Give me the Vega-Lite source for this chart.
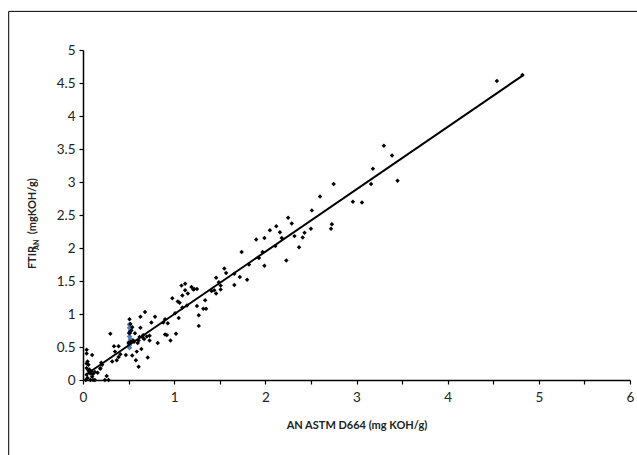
{
  "$schema": "https://vega.github.io/schema/vega-lite/v6.json",
  "autosize": {"type": "none"},
  "width": 547,
  "height": 330,
  "padding": {"left": 83, "top": 50, "right": 7, "bottom": 75},
  "background": "white",
  "config": {
    "view": {"stroke": null},
    "font": "Lato",
    "axis": {"grid": false, "domainColor": "#000000", "domainWidth": 1.5, "tickColor": "#000000", "tickWidth": 1.2, "tickSize": 4,
      "labelFont": "Lato", "labelFontSize": 13.5, "labelColor": "#222222", "labelOverlap": false, "labelFlush": false, "labelBound": false,
      "titleFont": "Lato", "titleFontSize": 11, "titleFontWeight": "bold", "titleColor": "#222222"}
  },
  "datasets": {
    "pts": [
      {"x":4.54,"y":4.53},{"x":4.82,"y":4.62},{"x":3.30,"y":3.55},{"x":3.39,"y":3.40},{"x":3.45,"y":3.02},{"x":3.18,"y":3.20},{"x":3.16,"y":2.97},{"x":2.96,"y":2.70},{"x":3.06,"y":2.69},{"x":2.75,"y":2.97},
      {"x":2.60,"y":2.78},{"x":2.51,"y":2.57},{"x":2.50,"y":2.29},{"x":2.73,"y":2.36},{"x":2.72,"y":2.29},{"x":2.43,"y":2.23},{"x":2.41,"y":2.16},{"x":2.37,"y":2.01},{"x":2.32,"y":2.18},{"x":2.29,"y":2.37},
      {"x":2.25,"y":2.46},{"x":2.23,"y":1.81},{"x":2.16,"y":2.24},{"x":2.18,"y":2.15},{"x":2.12,"y":2.33},{"x":2.05,"y":2.27},{"x":2.11,"y":2.03},{"x":1.99,"y":2.15},{"x":1.90,"y":2.13},{"x":1.97,"y":1.94},
      {"x":1.93,"y":1.85},{"x":1.99,"y":1.73},{"x":1.74,"y":1.94},{"x":1.82,"y":1.75},{"x":1.80,"y":1.52},{"x":1.72,"y":1.56},{"x":1.66,"y":1.61},{"x":1.66,"y":1.44},{"x":1.55,"y":1.69},{"x":1.57,"y":1.62},
      {"x":1.51,"y":1.43},{"x":1.49,"y":1.48},{"x":1.51,"y":1.37},{"x":1.46,"y":1.55},{"x":1.44,"y":1.36},{"x":1.46,"y":1.31},{"x":1.41,"y":1.35},{"x":1.25,"y":1.38},{"x":1.22,"y":1.38},{"x":1.19,"y":1.41},
      {"x":1.21,"y":1.37},{"x":1.12,"y":1.46},{"x":1.08,"y":1.43},{"x":1.15,"y":1.31},{"x":1.12,"y":1.36},{"x":1.09,"y":1.28},{"x":1.04,"y":1.19},{"x":1.06,"y":1.17},{"x":0.98,"y":1.24},{"x":1.14,"y":1.13},
      {"x":1.09,"y":1.10},{"x":1.25,"y":1.12},{"x":1.34,"y":1.21},{"x":1.32,"y":1.08},{"x":1.35,"y":1.08},{"x":1.27,"y":0.98},{"x":1.27,"y":0.82},{"x":1.01,"y":1.01},{"x":1.05,"y":0.94},{"x":1.02,"y":0.70},
      {"x":0.96,"y":0.60},{"x":0.93,"y":0.86},{"x":0.90,"y":0.92},{"x":0.88,"y":0.87},{"x":0.90,"y":0.69},{"x":0.92,"y":0.68},{"x":0.82,"y":0.56},{"x":0.79,"y":0.96},{"x":0.75,"y":0.87},{"x":0.73,"y":0.60},
      {"x":0.73,"y":0.67},{"x":0.71,"y":0.34},{"x":0.68,"y":1.03},{"x":0.63,"y":0.96},{"x":0.63,"y":0.79},{"x":0.65,"y":0.65},{"x":0.66,"y":0.68},{"x":0.61,"y":0.60},{"x":0.61,"y":0.20},{"x":0.64,"y":0.47},
      {"x":0.59,"y":0.43},{"x":0.58,"y":0.30},{"x":0.54,"y":0.37},{"x":0.57,"y":0.71},{"x":0.60,"y":0.56},{"x":0.52,"y":0.58},{"x":0.51,"y":0.92},{"x":0.51,"y":0.71},{"x":0.50,"y":0.56},{"x":0.47,"y":0.38},
      {"x":0.30,"y":0.70},{"x":0.34,"y":0.51},{"x":0.39,"y":0.51},{"x":0.35,"y":0.43},{"x":0.39,"y":0.35},{"x":0.41,"y":0.39},{"x":0.37,"y":0.30},{"x":0.32,"y":0.28},{"x":0.21,"y":0.23},{"x":0.19,"y":0.17},
      {"x":0.16,"y":0.11},{"x":0.10,"y":0.38},{"x":0.04,"y":0.46},{"x":0.04,"y":0.40},{"x":0.05,"y":0.28},{"x":0.04,"y":0.25},{"x":0.06,"y":0.23},{"x":0.04,"y":0.18},{"x":0.06,"y":0.14},{"x":0.08,"y":0.10},
      {"x":0.04,"y":0.08},{"x":0.11,"y":0.09},{"x":0.05,"y":0.03},{"x":0.08,"y":0.00},{"x":0.11,"y":0.00},{"x":0.03,"y":0.00},{"x":0.13,"y":0.00},{"x":0.20,"y":0.26},{"x":0.19,"y":0.18},{"x":0.26,"y":0.06},
      {"x":0.28,"y":0.00},{"x":0.24,"y":0.00},{"x":0.10,"y":0.05},{"x":0.55,"y":0.60},{"x":0.56,"y":0.58},{"x":0.62,"y":0.65},{"x":0.67,"y":0.62},{"x":0.70,"y":0.66},{"x":0.53,"y":0.75},{"x":0.54,"y":0.80},
      {"x":0.52,"y":0.85},{"x":0.51,"y":0.72},{"x":0.07,"y":0.16},{"x":0.09,"y":0.13},{"x":0.13,"y":0.12}
    ],
    "hl": [
      {"x":0.51,"y":0.49},{"x":0.51,"y":0.53},{"x":0.51,"y":0.58},{"x":0.52,"y":0.62},{"x":0.51,"y":0.66},{"x":0.51,"y":0.71},{"x":0.52,"y":0.75},{"x":0.51,"y":0.79},{"x":0.51,"y":0.84}
    ],
    "fit": [{"x":0.03,"y":0.08},{"x":4.83,"y":4.62}]
  },
  "layer": [
    {
      "data": {"values": [{}]},
      "mark": {"type": "rect", "fill": null, "fillOpacity": 0, "stroke": "#000000", "strokeWidth": 1, "clip": false},
      "encoding": {
        "x": {"datum": -0.815, "type": "quantitative", "scale": {"domain": [0, 6], "nice": false, "zero": false},
          "axis": {"title": "AN ASTM D664 (mg KOH/g)", "values": [0,0.5,1,1.5,2,2.5,3,3.5,4,4.5,5,5.5,6], "format": "~g", "labelExpr": "datum.value % 1 === 0 ? datum.label : ''", "labelPadding": 6, "titlePadding": 16}},
        "x2": {"datum": 6.4},
        "y": {"datum": 5.585, "type": "quantitative", "scale": {"domain": [0, 5], "nice": false, "zero": false},
          "axis": {"title": null, "values": [0,0.5,1,1.5,2,2.5,3,3.5,4,4.5,5], "format": "~g", "labelPadding": 4}},
        "y2": {"datum": -1.5}
      }
    },
    {
      "data": {"name": "hl"},
      "mark": {"type": "point", "shape": "diamond", "filled": true, "size": 32, "color": "#4F81BD", "opacity": 1},
      "encoding": {
        "x": {"field": "x", "type": "quantitative", "scale": {"domain": [0, 6], "nice": false, "zero": false},
          "axis": {"title": "AN ASTM D664 (mg KOH/g)", "values": [0,0.5,1,1.5,2,2.5,3,3.5,4,4.5,5,5.5,6], "format": "~g", "labelExpr": "datum.value % 1 === 0 ? datum.label : ''", "labelPadding": 6, "titlePadding": 16}},
        "y": {"field": "y", "type": "quantitative", "scale": {"domain": [0, 5], "nice": false, "zero": false},
          "axis": {"title": null, "values": [0,0.5,1,1.5,2,2.5,3,3.5,4,4.5,5], "format": "~g", "labelPadding": 4}}
      }
    },
    {
      "data": {"name": "fit"},
      "mark": {"type": "line", "color": "#000000", "strokeWidth": 2},
      "encoding": {
        "x": {"field": "x", "type": "quantitative",
          "axis": {"title": "AN ASTM D664 (mg KOH/g)", "values": [0,0.5,1,1.5,2,2.5,3,3.5,4,4.5,5,5.5,6], "format": "~g", "labelExpr": "datum.value % 1 === 0 ? datum.label : ''", "labelPadding": 6, "titlePadding": 16}},
        "y": {"field": "y", "type": "quantitative",
          "axis": {"title": null, "values": [0,0.5,1,1.5,2,2.5,3,3.5,4,4.5,5], "format": "~g", "labelPadding": 4}}
      }
    },
    {
      "data": {"name": "pts"},
      "mark": {"type": "point", "shape": "diamond", "filled": true, "size": 20, "color": "#000000", "opacity": 1},
      "encoding": {
        "x": {"field": "x", "type": "quantitative",
          "axis": {"title": "AN ASTM D664 (mg KOH/g)", "values": [0,0.5,1,1.5,2,2.5,3,3.5,4,4.5,5,5.5,6], "format": "~g", "labelExpr": "datum.value % 1 === 0 ? datum.label : ''", "labelPadding": 6, "titlePadding": 16}},
        "y": {"field": "y", "type": "quantitative",
          "axis": {"title": null, "values": [0,0.5,1,1.5,2,2.5,3,3.5,4,4.5,5], "format": "~g", "labelPadding": 4}}
      }
    },
    {
      "data": {"values": [{"t": "FTIR"}]},
      "mark": {"type": "text", "angle": 270, "align": "left", "baseline": "middle", "font": "Lato", "fontWeight": "bold", "fontSize": 11, "color": "#222222", "clip": false},
      "encoding": {
        "x": {"datum": -0.548, "type": "quantitative",
          "axis": {"title": "AN ASTM D664 (mg KOH/g)", "values": [0,0.5,1,1.5,2,2.5,3,3.5,4,4.5,5,5.5,6], "format": "~g", "labelExpr": "datum.value % 1 === 0 ? datum.label : ''", "labelPadding": 6, "titlePadding": 16}},
        "y": {"datum": 1.68, "type": "quantitative",
          "axis": {"title": null, "values": [0,0.5,1,1.5,2,2.5,3,3.5,4,4.5,5], "format": "~g", "labelPadding": 4}},
        "text": {"field": "t"}
      }
    },
    {
      "data": {"values": [{"t": "AN"}]},
      "mark": {"type": "text", "angle": 270, "align": "left", "baseline": "middle", "font": "Lato", "fontWeight": "bold", "fontSize": 7, "color": "#222222", "clip": false},
      "encoding": {
        "x": {"datum": -0.508, "type": "quantitative",
          "axis": {"title": "AN ASTM D664 (mg KOH/g)", "values": [0,0.5,1,1.5,2,2.5,3,3.5,4,4.5,5,5.5,6], "format": "~g", "labelExpr": "datum.value % 1 === 0 ? datum.label : ''", "labelPadding": 6, "titlePadding": 16}},
        "y": {"datum": 1.97, "type": "quantitative",
          "axis": {"title": null, "values": [0,0.5,1,1.5,2,2.5,3,3.5,4,4.5,5], "format": "~g", "labelPadding": 4}},
        "text": {"field": "t"}
      }
    },
    {
      "data": {"values": [{"t": "(mgKOH/g)"}]},
      "mark": {"type": "text", "angle": 270, "align": "left", "baseline": "middle", "font": "Lato", "fontWeight": "bold", "fontSize": 11, "color": "#222222", "clip": false},
      "encoding": {
        "x": {"datum": -0.548, "type": "quantitative",
          "axis": {"title": "AN ASTM D664 (mg KOH/g)", "values": [0,0.5,1,1.5,2,2.5,3,3.5,4,4.5,5,5.5,6], "format": "~g", "labelExpr": "datum.value % 1 === 0 ? datum.label : ''", "labelPadding": 6, "titlePadding": 16}},
        "y": {"datum": 2.21, "type": "quantitative",
          "axis": {"title": null, "values": [0,0.5,1,1.5,2,2.5,3,3.5,4,4.5,5], "format": "~g", "labelPadding": 4}},
        "text": {"field": "t"}
      }
    }
  ]
}
